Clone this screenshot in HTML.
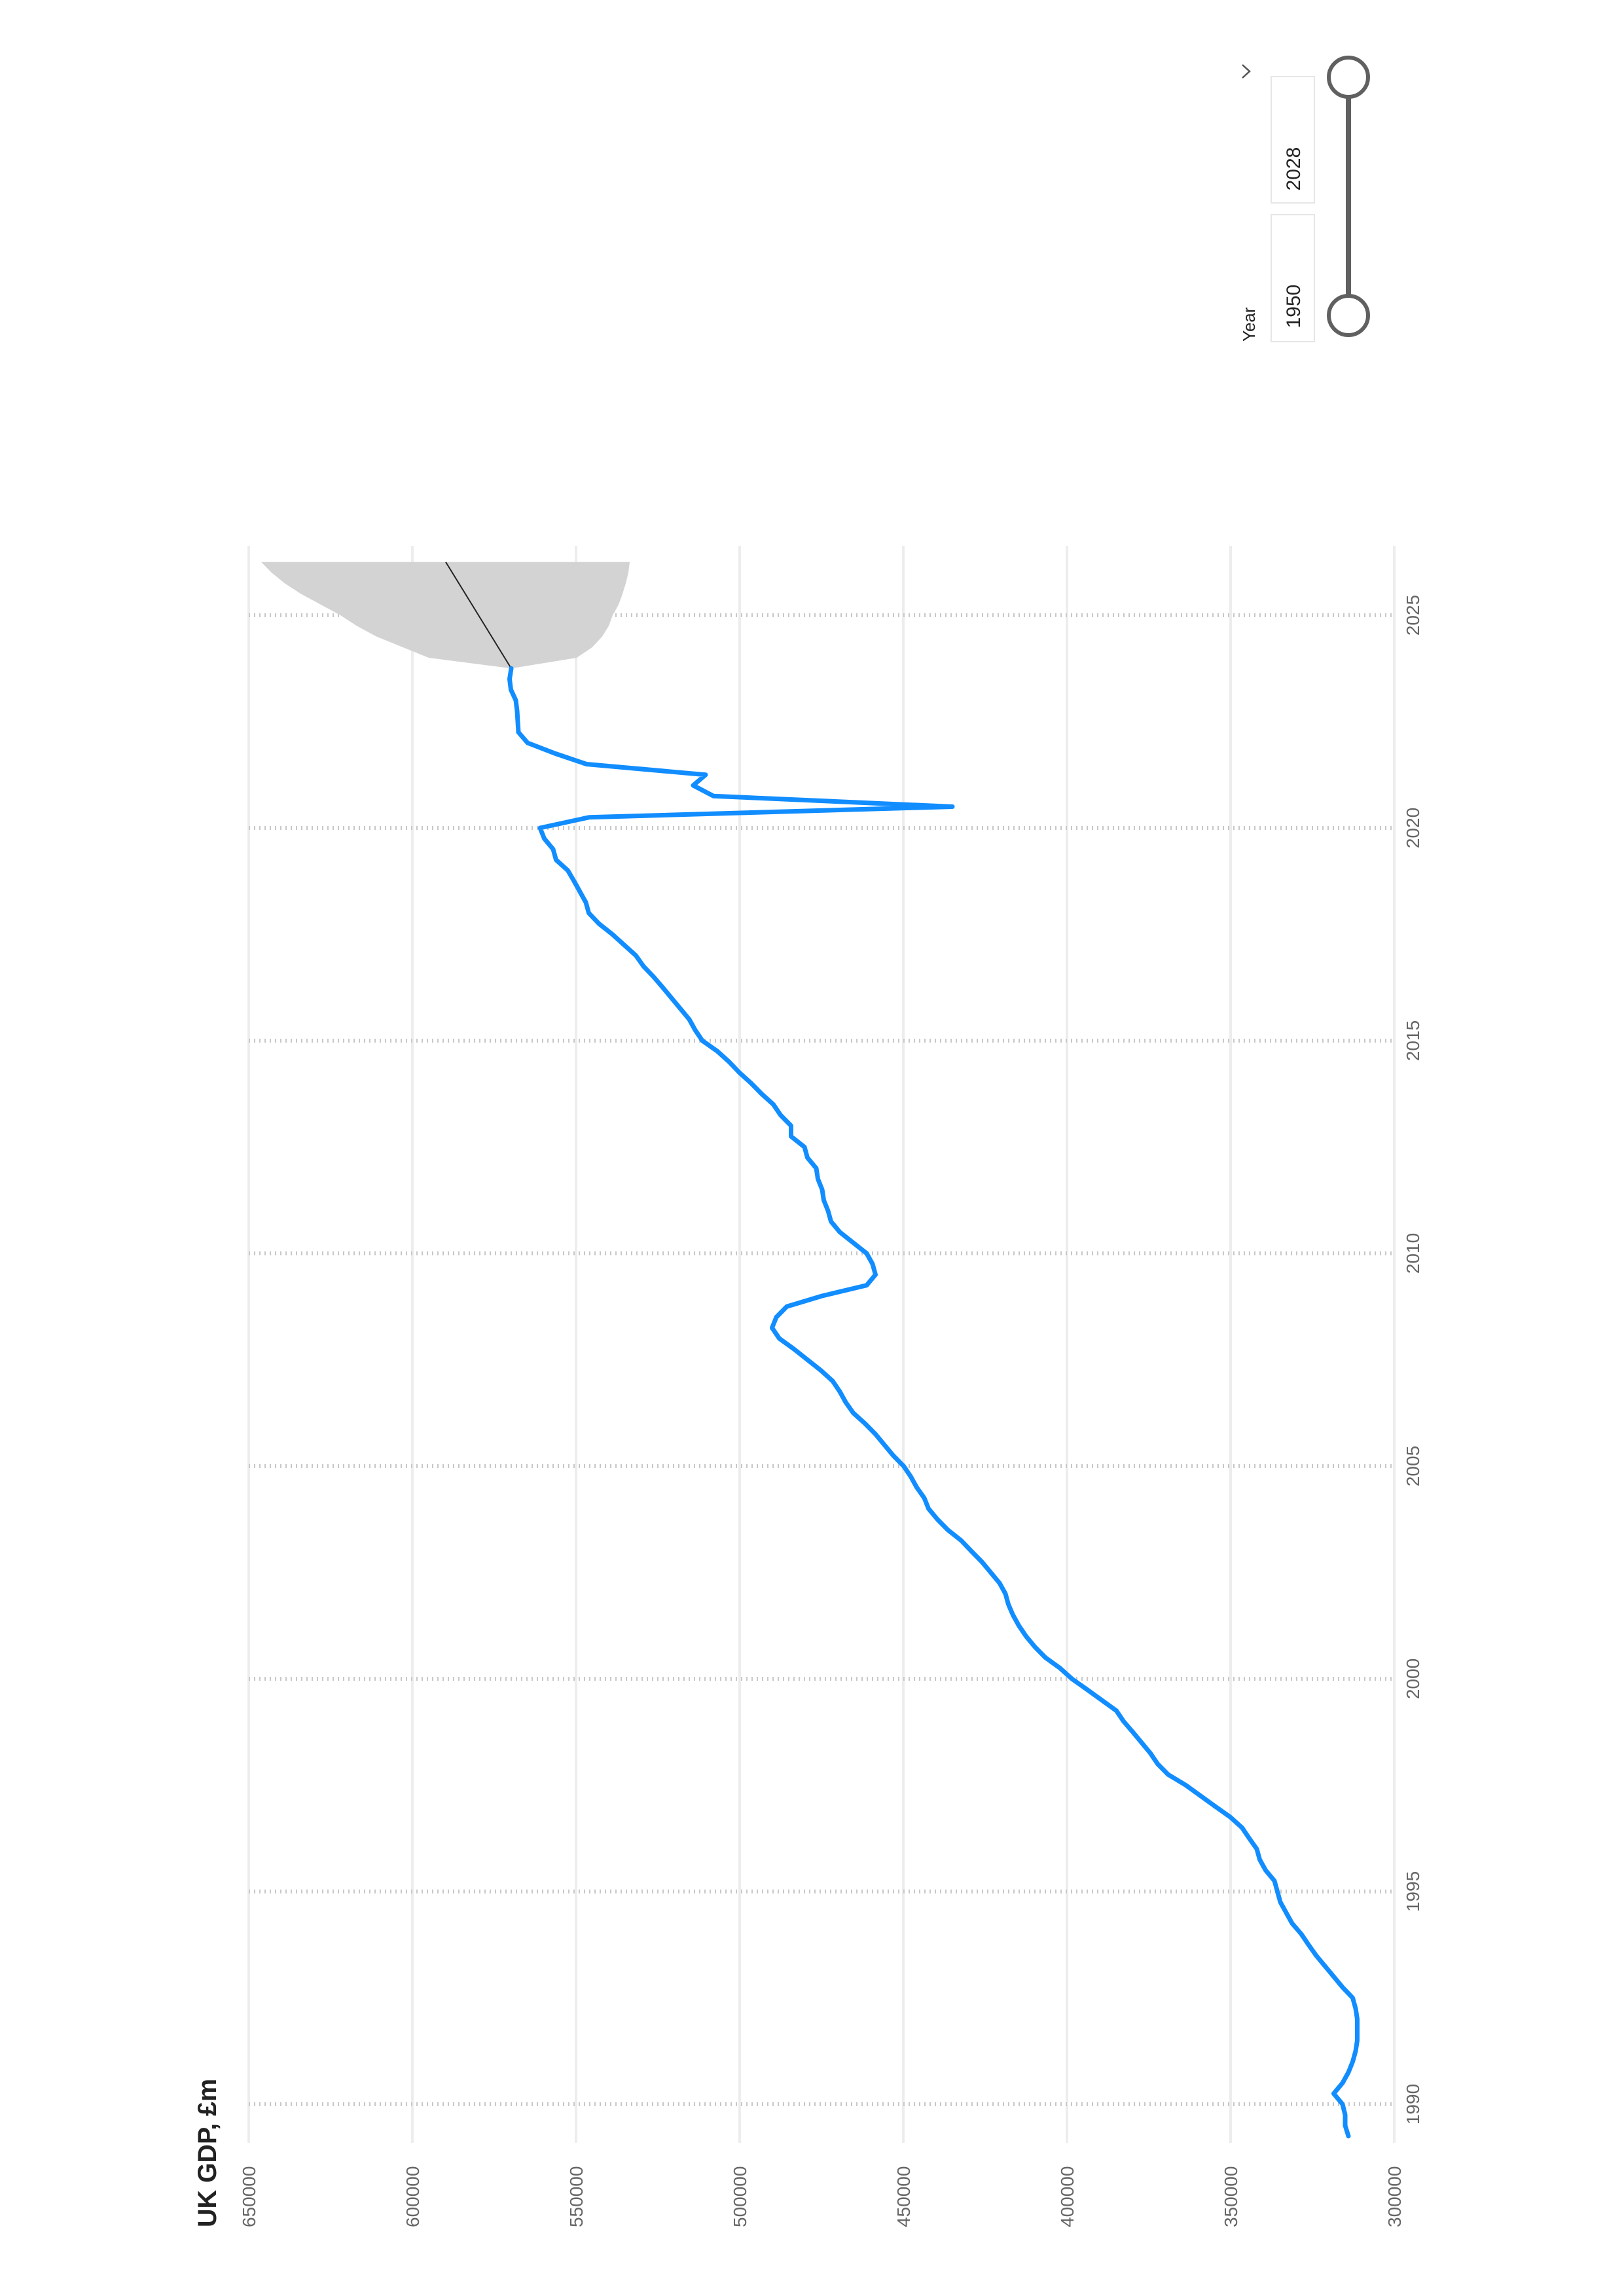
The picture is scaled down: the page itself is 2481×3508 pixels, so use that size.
<!DOCTYPE html>
<html><head><meta charset="utf-8"><style>
html,body{margin:0;padding:0;background:#fff;}
svg{display:block;font-family:"Liberation Sans",sans-serif;}
</style></head><body>
<svg id="chart" width="2481" height="3508" viewBox="0 0 2481 3508">
<g id="grid"></g>
<g id="band"></g>
<g id="lines"></g>
<g id="labels"></g>
<text transform="translate(330,3403) rotate(-90)" font-size="40" font-weight="bold" fill="#222" textLength="227" lengthAdjust="spacingAndGlyphs">UK GDP, £m</text>
<g>
  <text transform="translate(1917,522) rotate(-90)" font-size="26" fill="#222">Year</text>
  <polyline points="1898,99 1909,109 1898,119" fill="none" stroke="#555" stroke-width="2.5"/>
  <rect x="1942" y="117" width="66" height="193" fill="#fff" stroke="#e6e6e6" stroke-width="2"/>
  <text transform="translate(1986,258) rotate(-90)" font-size="30" fill="#222" text-anchor="middle">2028</text>
  <rect x="1942" y="328" width="66" height="194" fill="#fff" stroke="#e6e6e6" stroke-width="2"/>
  <text transform="translate(1986,468) rotate(-90)" font-size="30" fill="#222" text-anchor="middle">1950</text>
  <line x1="2060" y1="118" x2="2060" y2="482" stroke="#606060" stroke-width="8"/>
  <circle cx="2060" cy="118" r="30" fill="#fff" stroke="#606060" stroke-width="6"/>
  <circle cx="2060" cy="482" r="30" fill="#fff" stroke="#606060" stroke-width="6"/>
</g>
</svg>
<script>
const valueTicks = [650000,600000,550000,500000,450000,400000,350000,300000];
const yearTicks = [1990,1995,2000,2005,2010,2015,2020,2025];
const startYear = 1989.25;
const gdpValues = [
314000,315000,315000,
315800,318500,315800,314000,
312700,311800,311300,311300,
311300,311800,312700,315800,
318500,321200,323900,326200,
328400,331200,333000,334800,
335700,336600,339300,341100,
342000,344300,346500,350100,
354700,359200,363700,369100,
372300,374500,377200,379900,
382700,384900,389400,393900,
398500,402100,406600,409800,
412500,414700,416500,417900,
418800,420600,423300,426000,
429200,432300,436400,439600,
442300,443600,445900,447700,
449900,453100,455800,458500,
461700,465300,467600,469400,
471600,475200,479300,483400,
487900,490100,488800,485600,
474800,461200,458500,459400,
461200,465300,469400,472100,
473000,474300,474800,476100,
476600,479300,480200,484300,
484300,487500,489700,493300,
496500,500100,503200,506800,
511400,513600,515400,518100,
520800,523500,526300,529400,
531700,535300,538900,543000,
546100,547000,548800,550600,
552500,556100,557000,559700,
561000,546000,435000,508000,
514200,510400,546800,556400,
564800,567600,567800,568000,
568400,569900,570300,569800];
const forecastYears = [2023.75,2024,2024.25,2024.5,2024.75,2025,2025.25,2025.5,2025.75,2026,2026.25];
const forecastValues = [569800,571800,573800,575800,577800,579800,581800,583800,585800,587800,589800];
const forecastUpper = [569800,595000,603000,611000,617000,622000,628000,634000,639000,643000,646200];
const forecastLower = [569800,549800,545000,542000,540000,538800,537000,535800,534800,534000,533600];

const NS = "http://www.w3.org/2000/svg";
function xV(v){ return 380 + (650000 - v) / 200; }
function yY(y){ return 1265 - (y - 2020) * 65; }
function mk(tag, attrs, parent){
  const e = document.createElementNS(NS, tag);
  for (const k in attrs) e.setAttribute(k, attrs[k]);
  parent.appendChild(e);
  return e;
}
const grid = document.getElementById('grid');
const labels = document.getElementById('labels');
valueTicks.forEach(v => {
  const l = mk('line', {x1:xV(v), x2:xV(v), y1:834, y2:3274, stroke:'#ededed', 'stroke-width':4}, grid);
  
  
  const t = mk('text', {transform:`translate(${xV(v)+10},3403) rotate(-90)`, 'font-size':28, fill:'#666'}, labels);
  t.textContent = v;
  
  
});
yearTicks.forEach(y => {
  const l = mk('line', {x1:380, x2:2131, y1:yY(y), y2:yY(y), stroke:'#c8c8c8', 'stroke-width':6, 'stroke-dasharray':'2 6'}, grid);
  
  
  const t = mk('text', {transform:`translate(2168,${yY(y)}) rotate(-90)`, 'font-size':28, fill:'#666', 'text-anchor':'middle'}, labels);
  t.textContent = y;
  
  
});
// forecast band
let bp = forecastYears.map((y,i)=>`${xV(forecastUpper[i])},${yY(y)}`);
for (let i = forecastYears.length-1; i >= 0; i--) bp.push(`${xV(forecastLower[i])},${yY(forecastYears[i])}`);
const band = mk('polygon', {points:bp.join(' '), fill:'#d3d3d3'}, document.getElementById('band'));


const lines = document.getElementById('lines');
const fl = mk('polyline', {points:forecastYears.map((y,i)=>`${xV(forecastValues[i])},${yY(y)}`).join(' '), fill:'none', stroke:'#222', 'stroke-width':2}, lines);


const gl = mk('polyline', {points:gdpValues.map((v,i)=>`${xV(v)},${yY(startYear + i*0.25)}`).join(' '), fill:'none', stroke:'#118DFF', 'stroke-width':7, 'stroke-linejoin':'round', 'stroke-linecap':'round'}, lines);


</script>
</body></html>
